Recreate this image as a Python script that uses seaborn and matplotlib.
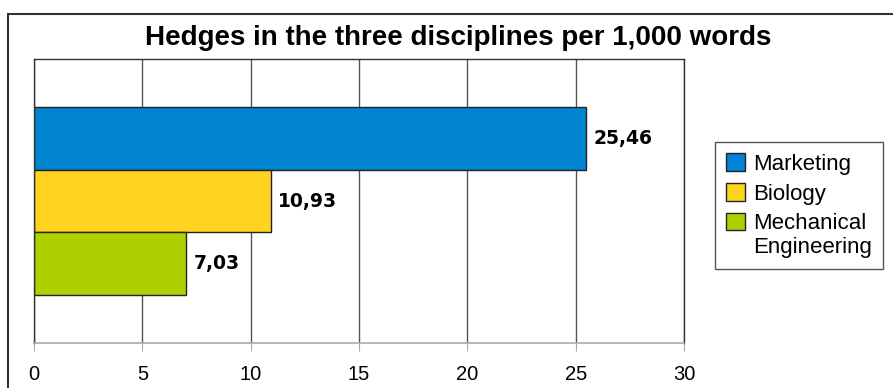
import numpy as np
import pandas as pd
import matplotlib
matplotlib.use("Agg")
import matplotlib.pyplot as plt
import seaborn as sns
from matplotlib.lines import Line2D
from matplotlib.patches import Rectangle
from matplotlib.legend_handler import HandlerPatch

# data
disciplines = ["Marketing", "Biology", "Mechanical\nEngineering"]
hedges = [25.46, 10.93, 7.03]
value_labels = ["25,46", "10,93", "7,03"]
colors = ["#0084d1", "#ffd320", "#aecf00"]
x_ticks = [0, 5, 10, 15, 20, 25, 30]

df = pd.DataFrame({"group": [""] * 3, "discipline": disciplines, "hedges": hedges})

sns.set_style("white")
plt.rcParams["font.family"] = ["Liberation Sans", "DejaVu Sans"]
plt.rcParams["text.color"] = "black"
plt.rcParams["xtick.color"] = "black"


# legend square sits on the first line of a two-line label
class TopHandler(HandlerPatch):
    def __init__(self, label):
        super().__init__()
        self.label = label

    def create_artists(self, legend, orig_handle, xdescent, ydescent,
                       width, height, fontsize, trans):
        shift = 0.65 * fontsize if "\n" in self.label else 0
        p = Rectangle((-xdescent, -ydescent + shift), width, height,
                      facecolor=orig_handle.get_facecolor(),
                      edgecolor=orig_handle.get_edgecolor(), linewidth=1)
        p.set_transform(trans)
        return [p]


fig = plt.figure(figsize=(8.93, 3.88), dpi=100)
ax = fig.add_axes([34 / 893, 1 - 343 / 388, 650 / 893, 284 / 388])

sns.barplot(df, y="group", x="hedges", hue="discipline", palette=colors,
            orient="h", width=0.662, edgecolor="#222222", linewidth=1,
            saturation=1, ax=ax, legend=True)

ax.set_xlim(0, 30)
ax.set_xticks(x_ticks)
ax.set_xticklabels([str(t) for t in x_ticks], fontsize=14.5)
ax.set_yticks([])
ax.set_xlabel("")
ax.set_ylabel("")
ax.xaxis.grid(True, color="#555555", linewidth=1)
ax.set_axisbelow(True)
ax.tick_params(axis="x", length=6, color="#aaaaaa", labelcolor="black", pad=10, bottom=True)
for s in ["top", "right", "left"]:
    ax.spines[s].set_visible(True)
    ax.spines[s].set_color("#333333")
    ax.spines[s].set_linewidth(1)
ax.spines["bottom"].set_color("#aaaaaa")
ax.spines["bottom"].set_linewidth(1.2)

# value labels
for bar, lab in zip(ax.patches, value_labels):
    w = bar.get_width()
    y = bar.get_y() + bar.get_height() / 2
    ax.text(w + 0.35, y, lab, va="center", ha="left", fontsize=13.5,
            fontweight="bold", family="DejaVu Sans", color="black")

ax.get_legend().remove()
handles = [Rectangle((0, 0), 1, 1, facecolor=c, edgecolor="#222222", linewidth=1) for c in colors]
leg = fig.legend(handles, disciplines, loc="upper left",
                 bbox_to_anchor=(715 / 893, 1 - 142 / 388), bbox_transform=fig.transFigure,
                 borderaxespad=0, fontsize=16, frameon=True, fancybox=False,
                 edgecolor="#555555", framealpha=1, handlelength=0.85, handleheight=0.85,
                 handletextpad=0.35, labelspacing=0.38, borderpad=0.5,
                 handler_map={h: TopHandler(l) for h, l in zip(handles, disciplines)})
leg.get_frame().set_linewidth(1)
for t in leg.get_texts():
    t.set_linespacing(1.2)

fig.text(458 / 893, 1 - 38 / 388, "Hedges in the three disciplines per 1,000 words",
         ha="center", va="center", fontsize=20, fontweight="bold")

# outer frame
fig.add_artist(Line2D([8 / 893, 8 / 893], [0, 1 - 14 / 388], color="#333333", linewidth=1.5))
fig.add_artist(Line2D([8 / 893, 1], [1 - 14 / 388, 1 - 14 / 388], color="#333333", linewidth=1.5))

fig.savefig("out.png", dpi=100)
